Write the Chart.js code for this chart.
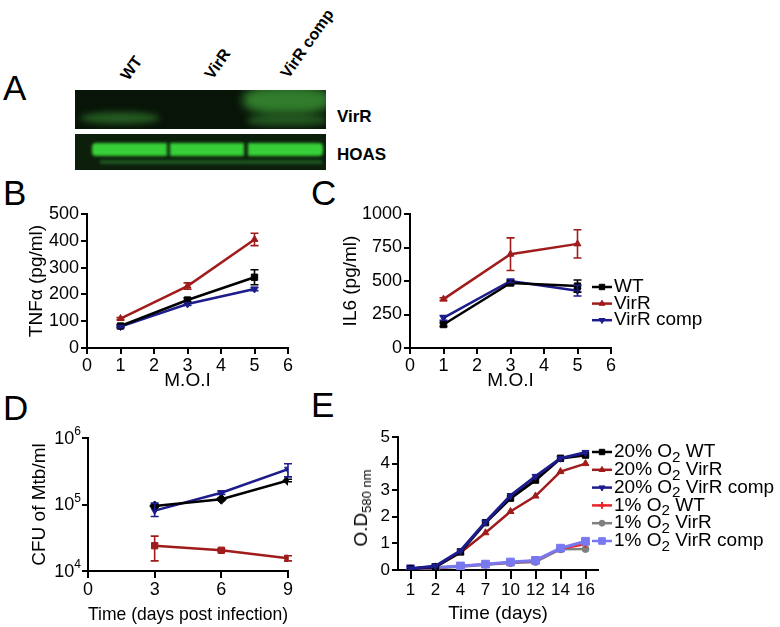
<!DOCTYPE html>
<html>
<head>
<meta charset="utf-8">
<script src="https://cdn.jsdelivr.net/npm/chart.js@4.4.1/dist/chart.umd.min.js"></script>
<style>
  html, body { margin: 0; padding: 0; background: #fff; }
  #fig { position: relative; width: 780px; height: 627px; overflow: hidden; font-family: 'Liberation Sans', Arial, Helvetica, sans-serif; color: #000; }
  #fig canvas { position: absolute; }
  .letra { position: absolute; font-size: 35px; line-height: 35px; }
  .blot { position: absolute; left: 75px; width: 251px; overflow: hidden; }
  .blot div { position: absolute; }
  .rot { position: absolute; font-size: 16px; font-weight: bold; line-height: 17px; white-space: nowrap; transform-origin: 0 100%; transform: rotate(-55deg); }
  .rotulo { position: absolute; font-size: 17px; font-weight: bold; line-height: 20px; }
  .ytit { position: absolute; font-size: 19px; white-space: nowrap; transform: translate(-50%, -50%) rotate(-90deg); }
  .ytit sub { font-size: 13px; vertical-align: -4px; }
</style>
</head>
<body>
<div id="fig">
  <!-- letras dos painéis -->
  <div class="letra" style="left:3px;top:70px">A</div>
  <div class="letra" style="left:3px;top:175px">B</div>
  <div class="letra" style="left:311px;top:175px">C</div>
  <div class="letra" style="left:3px;top:390px">D</div>
  <div class="letra" style="left:311px;top:387px">E</div>

  <!-- painel A: western blot -->
  <div class="rot" style="left:131px;top:66px">WT</div>
  <div class="rot" style="left:215px;top:65px">VirR</div>
  <div class="rot" style="left:291px;top:64px">VirR comp</div>

  <div class="blot" style="top:90px;height:39px;background:#081408">
    <div style="left:5px;top:22px;width:80px;height:12px;border-radius:50%;background:rgba(60,150,55,.55);filter:blur(3px)"></div>
    <div style="left:168px;top:-4px;width:88px;height:28px;border-radius:40%;background:rgba(65,170,60,.7);filter:blur(5px)"></div>
    <div style="left:172px;top:25px;width:80px;height:11px;border-radius:40%;background:rgba(60,150,55,.5);filter:blur(3px)"></div>
  </div>
  <div class="blot" style="top:134px;height:36px;background:#0b1f0b">
    <div style="left:17px;top:9px;width:231px;height:13px;border-radius:4px;background:#38d038;filter:blur(1.5px)"></div>
    <div style="left:92px;top:4px;width:3px;height:28px;background:#0b1f0b;filter:blur(1.5px)"></div>
    <div style="left:169px;top:4px;width:4px;height:28px;background:#0b1f0b;filter:blur(1.5px)"></div>
    <div style="left:25px;top:26px;width:222px;height:4px;background:rgba(60,170,60,.4);filter:blur(1.5px)"></div>
  </div>
  <div class="rotulo" style="left:337px;top:107px">VirR</div>
  <div class="rotulo" style="left:337px;top:145px">HOAS</div>

  <canvas id="chB" width="320" height="200" style="left:0;top:196px"></canvas>
  <canvas id="chC" width="460" height="200" style="left:320px;top:196px"></canvas>
  <canvas id="chD" width="320" height="207" style="left:0;top:420px"></canvas>
  <canvas id="chE" width="460" height="207" style="left:320px;top:420px"></canvas>

  <div class="ytit" style="left:362px;top:508px">O.D<sub>580 nm</sub></div>
</div>

<script>
// ── DADOS
// B – TNFα
const moiX = [1, 3, 5];
const tnfWT = [82, 179, 264];
const tnfWTErr = [5, 8, 28];
const tnfVirR = [110, 231, 405];
const tnfVirRErr = [4, 12, 23];
const tnfComp = [80, 164, 220];
const tnfCompErr = [4, 5, 6];

// C – IL6
const il6WT = [175, 485, 462];
const il6WTErr = [15, 15, 45];
const il6VirR = [365, 700, 777];
const il6VirRErr = [10, 122, 105];
const il6Comp = [225, 500, 428];
const il6CompErr = [18, 12, 40];
const legC = ['WT', 'VirR', 'VirR comp'];

// D – CFU (log)
const dDias = [3, 6, 9];
const cfuWT = [9.5e4, 1.2e5, 2.3e5];
const cfuWTLow = [9.1e4, 1.15e5, 2.2e5];
const cfuWTHigh = [1.0e5, 1.25e5, 2.4e5];
const cfuVirR = [2.4e4, 2.05e4, 1.55e4];
const cfuVirRLow = [1.42e4, 1.95e4, 1.42e4];
const cfuVirRHigh = [3.35e4, 2.15e4, 1.7e4];
const cfuComp = [8.1e4, 1.5e5, 3.4e5];
const cfuCompLow = [6.6e4, 1.42e5, 2.6e5];
const cfuCompHigh = [1.05e5, 1.6e5, 4.1e5];
const cfuTicks = [1e4, 1e5, 1e6];
const cfuTickExp = ['4', '5', '6'];

// E – curva de crescimento
const eDias = ['1', '2', '4', '7', '10', '12', '14', '16'];
const od20WT = [0.05, 0.12, 0.68, 1.78, 2.7, 3.38, 4.2, 4.32];
const od20VirR = [0.05, 0.12, 0.65, 1.4, 2.2, 2.78, 3.7, 4.0];
const od20Comp = [0.05, 0.15, 0.72, 1.8, 2.8, 3.52, 4.2, 4.42];
const od1WT = [0.05, 0.08, 0.15, 0.22, 0.28, 0.35, 0.8, 0.98];
const od1VirR = [0.05, 0.07, 0.12, 0.2, 0.26, 0.3, 0.78, 0.79];
const od1Comp = [0.05, 0.09, 0.15, 0.22, 0.3, 0.36, 0.82, 1.08];
const legE = ['20% O_2 WT', '20% O_2 VirR', '20% O_2 VirR comp', '1% O_2 WT', '1% O_2 VirR', '1% O_2 VirR comp'];

// ── CORES
const PRETO = '#000000';
const VERMELHO_ESC = '#a01c1c';
const AZUL = '#1c1c8c';
const VERMELHO = '#e8262a';
const CINZA = '#808080';
const LILAS = '#7878f0';
const FONTE = "'Liberation Sans', Arial, Helvetica, sans-serif";

Chart.defaults.font.family = FONTE;
Chart.defaults.color = '#000';

// ── HELPERS
const pares = (xs, ys) => xs.map((x, i) => ({ x, y: ys[i] }));
const menos = (v, e) => v.map((y, i) => y - e[i]);
const mais = (v, e) => v.map((y, i) => y + e[i]);

function serie(label, data, cor, estilo, extra) {
  return Object.assign({
    label, data,
    borderColor: cor, backgroundColor: cor,
    pointBackgroundColor: cor, pointBorderColor: cor,
    borderWidth: 2.5, pointBorderWidth: 1,
    pointStyle: estilo, pointRadius: 4, pointRotation: 0,
    tension: 0, fill: false
  }, extra || {});
}

function eixo(opts) {
  return {
    type: opts.type || 'linear',
    min: opts.min, max: opts.max, offset: !!opts.offset,
    border: { display: true, color: '#000', width: 2 },
    grid: {
      display: true, drawOnChartArea: false, drawTicks: true,
      color: '#000', lineWidth: 2, tickColor: '#000', tickWidth: 2, tickLength: opts.tl || 6
    },
    ticks: Object.assign({
      color: '#000', font: { size: opts.fs || 18 }, padding: opts.pad == null ? 2 : opts.pad,
      maxRotation: 0, autoSkip: false,
      callback: function (v) { return opts.type === 'category' ? this.getLabelForValue(v) : String(v); }
    }, opts.ticks || {}),
    title: opts.title ? { display: true, text: opts.title, color: '#000', font: { size: 19 }, padding: opts.tpad } : { display: false },
    afterFit: opts.fit,
    afterBuildTicks: opts.abt
  };
}

// barras de erro desenhadas pela escala y
const barrasErro = {
  id: 'barrasErro',
  afterDatasetsDraw(chart) {
    const ctx = chart.ctx, ys = chart.scales.y;
    chart.data.datasets.forEach((ds, i) => {
      if (!ds.errLow) return;
      const meta = chart.getDatasetMeta(i);
      ctx.save();
      ctx.strokeStyle = ds.borderColor;
      ctx.lineWidth = 1.6;
      meta.data.forEach((pt, j) => {
        const y1 = ys.getPixelForValue(ds.errLow[j]);
        const y2 = ys.getPixelForValue(ds.errHigh[j]);
        const x = pt.x, w = 4;
        ctx.beginPath();
        ctx.moveTo(x, y1); ctx.lineTo(x, y2);
        ctx.moveTo(x - w, y1); ctx.lineTo(x + w, y1);
        ctx.moveTo(x - w, y2); ctx.lineTo(x + w, y2);
        ctx.stroke();
      });
      ctx.restore();
    });
  }
};

// rótulos 10^n do eixo log (base + expoente sobrescrito)
const rotulosLog = {
  id: 'rotulosLog',
  afterDraw(chart, args, o) {
    if (!o || !o.display) return;
    const ctx = chart.ctx, s = chart.scales.y;
    ctx.save();
    ctx.fillStyle = '#000';
    ctx.textAlign = 'left';
    ctx.textBaseline = 'middle';
    o.valores.forEach((v, i) => {
      const y = s.getPixelForValue(v);
      ctx.font = '12px ' + FONTE;
      const wSup = ctx.measureText(o.exp[i]).width;
      ctx.font = '18px ' + FONTE;
      const wBase = ctx.measureText('10').width;
      const xFim = s.right - s.options.grid.tickLength - 1;
      ctx.fillText('10', xFim - wSup - wBase, y + 1);
      ctx.font = '12px ' + FONTE;
      ctx.fillText(o.exp[i], xFim - wSup, y - 6);
    });
    ctx.restore();
  }
};

// texto com subscrito: "O_2" -> O + 2 rebaixado
function textoRico(ctx, txt, x, y, tam) {
  const partes = txt.split(/_(\w)/);
  ctx.textBaseline = 'middle';
  ctx.textAlign = 'left';
  partes.forEach((p, k) => {
    const sub = k % 2 === 1;
    ctx.font = (sub ? tam * 0.8 : tam) + 'px ' + FONTE;
    ctx.fillText(p, x, y + (sub ? tam * 0.3 : 0));
    x += ctx.measureText(p).width;
  });
}

// legenda estilo Prism: linha + marcador + texto
const legendaLinha = {
  id: 'legendaLinha',
  afterDraw(chart, args, o) {
    if (!o || !o.display) return;
    const ctx = chart.ctx;
    chart.data.datasets.forEach((ds, i) => {
      const y = o.y + i * o.passo;
      ctx.save();
      ctx.strokeStyle = ds.borderColor;
      ctx.lineWidth = 2.5;
      ctx.beginPath();
      ctx.moveTo(o.x, y); ctx.lineTo(o.x + o.comp, y);
      ctx.stroke();
      ctx.fillStyle = ds.pointBackgroundColor;
      ctx.strokeStyle = ds.pointBorderColor;
      ctx.lineWidth = ds.pointBorderWidth;
      const cx = o.x + o.comp / 2;
      if (Chart.helpers && Chart.helpers.drawPoint) {
        Chart.helpers.drawPoint(ctx, { pointStyle: ds.pointStyle, rotation: ds.pointRotation, radius: ds.pointRadius * 0.85, borderWidth: ds.pointBorderWidth }, cx, y);
      } else {
        ctx.fillRect(cx - 3, y - 3, 6, 6);
      }
      ctx.fillStyle = '#000';
      textoRico(ctx, ds.label, o.x + o.comp + 2, y, o.fonte);
      ctx.restore();
    });
  }
};

function criar(id, datasets, scales, legenda, labels, logRot) {
  return new Chart(document.getElementById(id), {
    type: 'line',
    data: labels ? { labels, datasets } : { datasets },
    options: {
      responsive: false, animation: false, events: [],
      layout: { padding: scales._pad },
      plugins: {
        legend: { display: false }, tooltip: { enabled: false },
        legendaLinha: legenda || { display: false },
        rotulosLog: logRot || { display: false }
      },
      scales: { x: scales.x, y: scales.y }
    },
    plugins: [barrasErro, legendaLinha, rotulosLog]
  });
}

// ── PAINEL B
criar('chB', [
  serie('WT', pares(moiX, tnfWT), PRETO, 'rect', { pointRadius: 4.5, errLow: menos(tnfWT, tnfWTErr), errHigh: mais(tnfWT, tnfWTErr) }),
  serie('VirR', pares(moiX, tnfVirR), VERMELHO_ESC, 'triangle', { errLow: menos(tnfVirR, tnfVirRErr), errHigh: mais(tnfVirR, tnfVirRErr) }),
  serie('VirR comp', pares(moiX, tnfComp), AZUL, 'triangle', { pointRotation: 180, errLow: menos(tnfComp, tnfCompErr), errHigh: mais(tnfComp, tnfCompErr) })
], {
  _pad: { top: 18, right: 32, bottom: 0, left: 0 },
  x: eixo({ min: 0, max: 6, ticks: { stepSize: 1 }, pad: 1, title: 'M.O.I', tpad: { top: 0, bottom: 4 }, fit: s => { s.height = 48; } }),
  y: eixo({ min: 0, max: 500, ticks: { stepSize: 100 }, title: 'TNFα (pg/ml)', tpad: { top: 25, bottom: 0 }, fit: s => { s.width = 87; } })
});

// ── PAINEL C
criar('chC', [
  serie(legC[0], pares(moiX, il6WT), PRETO, 'rect', { pointRadius: 4.5, errLow: menos(il6WT, il6WTErr), errHigh: mais(il6WT, il6WTErr) }),
  serie(legC[1], pares(moiX, il6VirR), VERMELHO_ESC, 'triangle', { errLow: menos(il6VirR, il6VirRErr), errHigh: mais(il6VirR, il6VirRErr) }),
  serie(legC[2], pares(moiX, il6Comp), AZUL, 'triangle', { pointRotation: 180, errLow: menos(il6Comp, il6CompErr), errHigh: mais(il6Comp, il6CompErr) })
], {
  _pad: { top: 18, right: 169, bottom: 0, left: 0 },
  x: eixo({ min: 0, max: 6, ticks: { stepSize: 1 }, pad: 1, title: 'M.O.I', tpad: { top: 0, bottom: 4 }, fit: s => { s.height = 48; } }),
  y: eixo({ min: 0, max: 1000, ticks: { stepSize: 250 }, title: 'IL6 (pg/ml)', tpad: { top: 19, bottom: 0 }, fit: s => { s.width = 90; } })
}, { display: true, x: 272, y: 91, passo: 16.6, comp: 20, fonte: 19 });

// ── PAINEL D
criar('chD', [
  serie('WT', pares(dDias, cfuWT), PRETO, 'rectRot', { pointRadius: 5, errLow: cfuWTLow, errHigh: cfuWTHigh }),
  serie('VirR', pares(dDias, cfuVirR), VERMELHO_ESC, 'rect', { pointRadius: 4.5, errLow: cfuVirRLow, errHigh: cfuVirRHigh }),
  serie('VirR comp', pares(dDias, cfuComp), AZUL, 'triangle', { pointRotation: 180, errLow: cfuCompLow, errHigh: cfuCompHigh })
], {
  _pad: { top: 18, right: 32, bottom: 0, left: 0 },
  x: eixo({ min: 0, max: 9, ticks: { stepSize: 3 }, tl: 7, pad: 1, title: 'Time (days post infection)', tpad: { top: 0, bottom: 1 }, fit: s => { s.height = 56; } }),
  y: eixo({
    type: 'logarithmic', min: 1e4, max: 1e6,
    ticks: { display: false },
    abt: s => { s.ticks = cfuTicks.map(v => ({ value: v })); },
    title: 'CFU of Mtb/ml', tpad: { top: 28, bottom: 0 }, fit: s => { s.width = 88; }
  })
}, null, null, { display: true, valores: cfuTicks, exp: cfuTickExp });

// ── PAINEL E
criar('chE', [
  serie(legE[0], od20WT, PRETO, 'rect', { borderWidth: 3, pointRadius: 4.5, order: 1 }),
  serie(legE[1], od20VirR, VERMELHO_ESC, 'triangle', { order: 2 }),
  serie(legE[2], od20Comp, AZUL, 'triangle', { borderWidth: 3, pointRotation: 180, order: 0 }),
  serie(legE[3], od1WT, VERMELHO, 'cross', { pointBorderWidth: 2, pointRadius: 4, order: 4 }),
  serie(legE[4], od1VirR, CINZA, 'circle', { pointRadius: 3.5, order: 5 }),
  serie(legE[5], od1Comp, LILAS, 'rect', { pointRadius: 5.5, borderWidth: 3, order: 3 })
], {
  _pad: { top: 17, right: 182, bottom: 0, left: 0 },
  x: eixo({ type: 'category', offset: true, tl: 9, pad: 1, fs: 17, title: 'Time (days)', tpad: { top: 0, bottom: 2 }, fit: s => { s.height = 57; } }),
  y: eixo({ min: 0, max: 5, ticks: { stepSize: 1 }, fs: 17, fit: s => { s.width = 78; } })
}, { display: true, x: 272, y: 32, passo: 17.8, comp: 20, fonte: 19 }, eDias);
</script>
</body>
</html>
